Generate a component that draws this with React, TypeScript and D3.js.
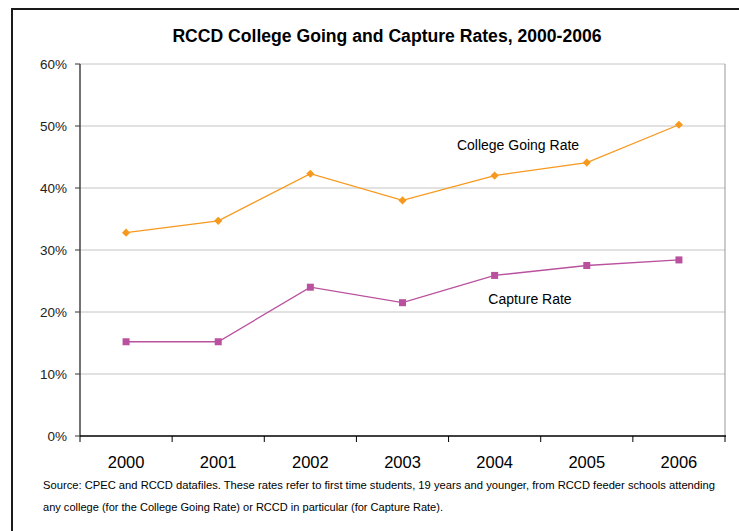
import React from "react";
import * as d3 from "d3";

const years = ["2000", "2001", "2002", "2003", "2004", "2005", "2006"];
const collegeGoing = [32.8, 34.7, 42.3, 38.0, 42.0, 44.1, 50.2];
const captureRate = [15.2, 15.2, 24.0, 21.5, 25.9, 27.5, 28.4];
const yTicks = [0, 10, 20, 30, 40, 50, 60];
const title = "RCCD College Going and Capture Rates, 2000-2006";
const sourceLines = [
  "Source: CPEC and RCCD datafiles.  These rates refer to first time students, 19 years and younger, from RCCD feeder schools attending",
  "any college (for the College Going Rate) or RCCD in particular (for Capture Rate).",
];

const W = 739, H = 531;
const plot = { left: 80, right: 725, top: 64, bottom: 436 };
const ORANGE = "#F7991E";
const MAGENTA = "#B9519F";

export default function App() {
  const x = d3.scaleBand().domain(years).range([plot.left, plot.right]);
  const y = d3.scaleLinear().domain([0, 60]).range([plot.bottom, plot.top]);
  const cx = (yr: string) => (x(yr) as number) + x.bandwidth() / 2;
  const line = d3.line<number>().x((_, i) => cx(years[i])).y((v) => y(v));
  const diamond = d3.symbol().type(d3.symbolDiamond2).size(42)();
  const font = "Arial, 'Liberation Sans', sans-serif";
  const narrow = "'Liberation Sans Narrow', 'Arial Narrow', Arial, sans-serif";

  return (
    <svg width={W} height={H} style={{ position: "absolute", left: 0, top: 0, background: "#fff" }}>
      <rect x={12} y={9} width={W} height={H} fill="#fff" stroke="#1a1a1a" strokeWidth={2} />
      <text x={387} y={42} textAnchor="middle" fontFamily={font} fontWeight="bold" fontSize={17.6} fill="#000">{title}</text>

      {yTicks.map((t) => (
        <g key={t}>
          {t > 0 && <line x1={plot.left} x2={plot.right} y1={y(t)} y2={y(t)} stroke="#c4c4c4" strokeWidth={1} />}
          <line x1={plot.left - 5} x2={plot.left} y1={y(t)} y2={y(t)} stroke="#333" />
          <text x={67} y={y(t) + 5} textAnchor="end" fontFamily={font} fontSize={13.5} fill="#222">{t}%</text>
        </g>
      ))}
      <line x1={plot.right} x2={plot.right} y1={plot.top} y2={plot.bottom} stroke="#999" />
      <line x1={plot.left} x2={plot.left} y1={plot.top} y2={plot.bottom} stroke="#444" strokeWidth={1.5} />
      <line x1={plot.left} x2={plot.right + 1} y1={plot.bottom} y2={plot.bottom} stroke="#000" strokeWidth={1.5} />
      {years.map((yr, i) => (
        <line key={"t" + i} x1={x(yr) as number} x2={x(yr) as number} y1={plot.bottom} y2={plot.bottom + 6} stroke="#000" />
      ))}
      <line x1={plot.right} x2={plot.right} y1={plot.bottom} y2={plot.bottom + 6} stroke="#000" />
      {years.map((yr) => (
        <text key={"l" + yr} x={cx(yr)} y={468} textAnchor="middle" fontFamily={font} fontSize={16.5} fill="#000">{yr}</text>
      ))}

      <path d={line(collegeGoing) || ""} fill="none" stroke={ORANGE} strokeWidth={1.3} />
      {collegeGoing.map((v, i) => (
        <path key={"d" + i} d={diamond || ""} transform={`translate(${cx(years[i])},${y(v)})`} fill={ORANGE} />
      ))}
      <path d={line(captureRate) || ""} fill="none" stroke={MAGENTA} strokeWidth={1.3} />
      {captureRate.map((v, i) => (
        <rect key={"s" + i} x={cx(years[i]) - 3.5} y={y(v) - 3.5} width={7} height={7} fill={MAGENTA} />
      ))}

      <text x={518} y={150} textAnchor="middle" fontFamily={narrow} fontSize={14} fill="#000">College Going Rate</text>
      <text x={530} y={304} textAnchor="middle" fontFamily={narrow} fontSize={14} fill="#000">Capture Rate</text>

      <text x={43} y={489} fontFamily={narrow} fontSize={11.5} fill="#000" textLength={672} lengthAdjust="spacingAndGlyphs">{sourceLines[0]}</text>
      <text x={43} y={511} fontFamily={narrow} fontSize={11.5} fill="#000" textLength={400} lengthAdjust="spacingAndGlyphs">{sourceLines[1]}</text>
    </svg>
  );
}
